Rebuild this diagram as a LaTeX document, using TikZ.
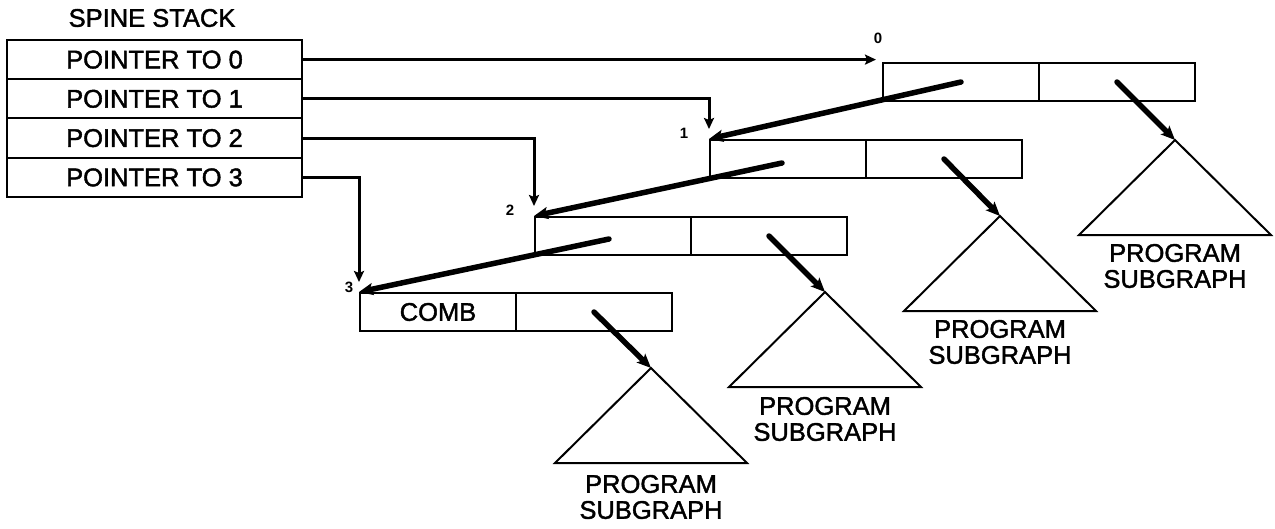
\documentclass[tikz,border=0pt]{standalone}
\usepackage{fontspec}
\setmainfont[BoldFont={Liberation Sans},BoldFeatures={FakeBold=1.6}]{Liberation Sans}
\newfontfamily\lblfont{Liberation Sans}
\usetikzlibrary{arrows.meta}
\begin{document}
\begin{tikzpicture}[x=1pt,y=-1pt,
  txt/.style={font=\fontsize{25.5}{26}\selectfont\bfseries},
  cell/.style={draw,line width=2pt,minimum width=156pt,minimum height=38pt,inner sep=0pt,anchor=north west,txt},
  row/.style={draw,line width=2pt,minimum width=295pt,minimum height=39.25pt,inner sep=0pt,txt},
  ptr/.style={line width=3pt,-{Stealth[length=11pt,width=10pt,inset=2pt]}},
  link/.style={line width=5.5pt,line cap=round,-{Stealth[length=14pt,width=12pt,inset=3pt]}},
  tri/.style={line width=2pt,line join=miter},
  lbl/.style={font=\lblfont\fontsize{15}{15}\selectfont\bfseries},
  captext/.style={inner sep=0pt,txt}]
\useasboundingbox (0,0) rectangle (1275,528);
% spine stack
\node[txt] (title) at (152,18) {SPINE STACK};
\node[row] (r0) at (154.5,59.6) {POINTER TO 0};
\node[row] (r1) at (154.5,98.8) {POINTER TO 1};
\node[row] (r2) at (154.5,138.1) {POINTER TO 2};
\node[row] (r3) at (154.5,177.4) {POINTER TO 3};
% cells
\node[cell] (c0l) at (882,62) {};
\node[cell] (c0r) at (1038,62) {};
\node[cell] (c1l) at (709,139) {};
\node[cell] (c1r) at (865,139) {};
\node[cell] (c2l) at (534,216) {};
\node[cell] (c2r) at (690,216) {};
\node[cell] (c3l) at (359,292) {COMB};
\node[cell] (c3r) at (515,292) {};
% small labels
\node[lbl] (l0) at (878,38) {0};
\node[lbl] (l1) at (684,133) {1};
\node[lbl] (l2) at (510,210) {2};
\node[lbl] (l3) at (349,287) {3};
% triangles
\coordinate (a0) at (1175,140);
\coordinate (a1) at (1000,216);
\coordinate (a2) at (825,292);
\coordinate (a3) at (651,368);
\foreach \a in {a0,a1,a2,a3}{
  \draw[tri] (\a) -- ++(-96,95) -- ++(192,0) -- cycle;
}
\node[captext] (p0) at (1175,253) {PROGRAM};
\node[captext] (s0) at (1175,279) {SUBGRAPH};
\node[captext] (p1) at (1000,329) {PROGRAM};
\node[captext] (s1) at (1000,355) {SUBGRAPH};
\node[captext] (p2) at (825,406) {PROGRAM};
\node[captext] (s2) at (825,432) {SUBGRAPH};
\node[captext] (p3) at (651,484) {PROGRAM};
\node[captext] (s3) at (651,510) {SUBGRAPH};
% pointers from spine stack
\draw[ptr,shorten >=6pt] (r0.east) -- (r0.east -| c0l.west);
\draw[ptr] (r1.east) -| ([yshift=10pt]c1l.north west);
\draw[ptr] (r2.east) -| ([yshift=10pt]c2l.north west);
\draw[ptr] (r3.east) -| ([yshift=10pt]c3l.north west);
% spine links
\draw[link] (c0l.center) -- (c1l.north west);
\draw[link] ([xshift=-6pt,yshift=-4pt]c1l.center) -- (c2l.north west);
\draw[link] ([xshift=-4pt,yshift=-3pt]c2l.center) -- (c3l.north west);
% subgraph links
\draw[link] (c0r.center) -- (a0);
\draw[link] (c1r.center) -- (a1);
\draw[link] (c2r.center) -- (a2);
\draw[link] (c3r.center) -- (a3);
\end{tikzpicture}
\end{document}
